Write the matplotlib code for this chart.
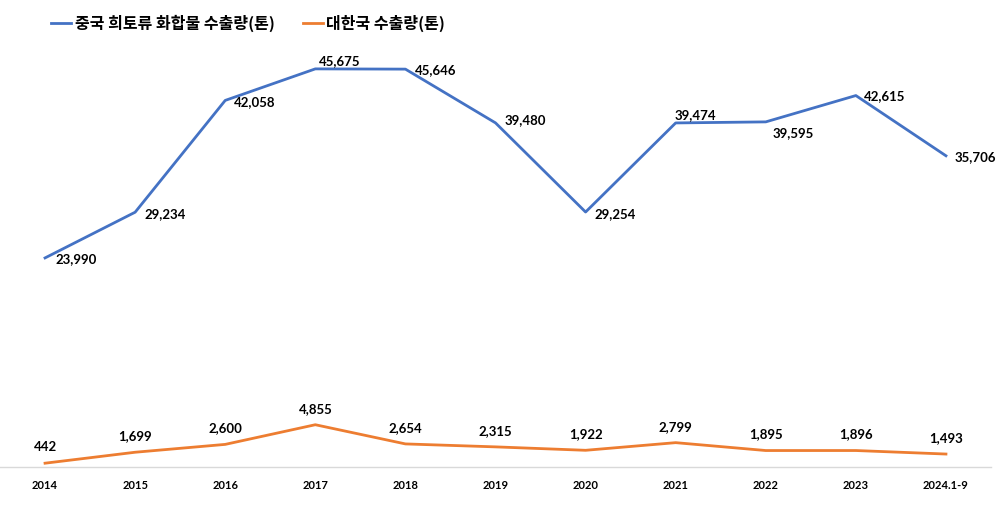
import matplotlib.pyplot as plt
import numpy as np

plt.rcParams['font.family'] = ['Noto Sans CJK KR', 'DejaVu Sans']

years = ['2014', '2015', '2016', '2017', '2018', '2019', '2020',
         '2021', '2022', '2023', '2024.1-9']
china = [23990, 29234, 42058, 45675, 45646, 39480, 29254,
         39474, 39595, 42615, 35706]
korea = [442, 1699, 2600, 4855, 2654, 2315, 1922,
         2799, 1895, 1896, 1493]

china_label = '중국 희토류 화합물 수출량(톤)'
korea_label = '대한국 수출량(톤)'

# label offsets (pixels) for the china series, as placed in the original
china_off = [(10, -1), (9, -2), (9, -2), (4, 8), (9, -1), (9, 3),
             (9, -2), (-1, 8), (7, -11), (8, -1), (9, -1)]

num_font = ['Lato', 'DejaVu Sans']

fig = plt.figure(figsize=(10, 5.11), dpi=100)
ax = fig.add_axes([0.0, 0.086, 0.991, 0.853])

x = np.arange(len(years))
ax.plot(x, china, color='#4472C4', lw=2.0, label=china_label)
ax.plot(x, korea, color='#ED7D31', lw=2.0, label=korea_label)

for xi, v, off in zip(x, china, china_off):
    ax.annotate(f'{v:,}', (xi, v), xytext=off, textcoords='offset pixels',
                ha='left', va='center', fontsize=9.5, fontweight='bold',
                family=num_font)
for xi, v in zip(x, korea):
    ax.annotate(f'{v:,}', (xi, v), xytext=(0, 16), textcoords='offset pixels',
                ha='center', va='center', fontsize=9.5, fontweight='bold',
                family=num_font)

ax.set_xlim(-0.5, 10.5)
ax.set_ylim(0, 50000)
ax.set_xticks(x)
ax.set_xticklabels(years, fontsize=8, fontweight='bold', family=num_font)
ax.tick_params(axis='x', length=0, pad=9)
ax.set_yticks([])
for s in ['top', 'right', 'left']:
    ax.spines[s].set_visible(False)
ax.spines['bottom'].set_color('#D9D9D9')
ax.spines['bottom'].set_linewidth(1.0)

leg = fig.legend(loc='upper left', bbox_to_anchor=(0.037, 1.0), ncol=2,
                 frameon=False, handlelength=1.25, handletextpad=0.2,
                 columnspacing=1.8, prop={'size': 11.5, 'weight': 'bold'})

fig.savefig('out.png', dpi=100)
